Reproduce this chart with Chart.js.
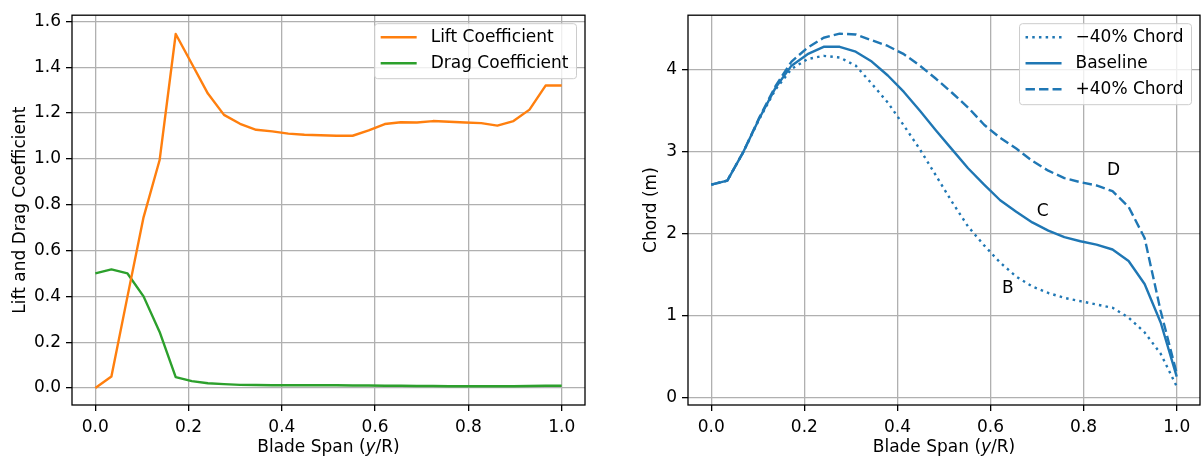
<!DOCTYPE html>
<html>
<head>
<meta charset="utf-8">
<script src="https://cdn.jsdelivr.net/npm/chart.js@4/dist/chart.umd.min.js"></script>
<style>
  body { margin: 0; background: #fff; width: 1202px; height: 460px; overflow: hidden; position: relative; }
  canvas { position: absolute; top: 0; }
  #left-chart { left: 0; }
  #right-chart { left: 601px; }
</style>
</head>
<body>
<canvas id="left-chart" width="601" height="460"></canvas>
<canvas id="right-chart" width="601" height="460"></canvas>
<script>
// blade span stations (y/R)
var spanPoints = [0, 0.0345, 0.069, 0.1034, 0.1379, 0.1724, 0.2069, 0.2414, 0.2759, 0.3103,
  0.3448, 0.3793, 0.4138, 0.4483, 0.4828, 0.5172, 0.5517, 0.5862, 0.6207, 0.6552,
  0.6897, 0.7241, 0.7586, 0.7931, 0.8276, 0.8621, 0.8966, 0.931, 0.9655, 1.0];

var liftCoeff = [0.00, 0.05, 0.40, 0.745, 0.995, 1.545, 1.415, 1.285, 1.192, 1.153,
  1.127, 1.120, 1.110, 1.105, 1.103, 1.101, 1.101, 1.124, 1.152, 1.160,
  1.159, 1.165, 1.162, 1.159, 1.156, 1.145, 1.165, 1.215, 1.320, 1.320];

var dragCoeff = [0.50, 0.518, 0.50, 0.40, 0.245, 0.048, 0.030, 0.021, 0.017, 0.014,
  0.013, 0.012, 0.012, 0.012, 0.012, 0.012, 0.011, 0.011, 0.010, 0.010,
  0.009, 0.009, 0.008, 0.008, 0.008, 0.008, 0.008, 0.009, 0.010, 0.010];

var chordMinus40 = [2.60, 2.65, 3.00, 3.40, 3.76, 4.01, 4.13, 4.17, 4.15, 4.05,
  3.83, 3.60, 3.32, 3.03, 2.71, 2.39, 2.09, 1.86, 1.65, 1.48,
  1.36, 1.28, 1.22, 1.18, 1.14, 1.10, 0.98, 0.80, 0.54, 0.14];

var chordBaseline = [2.60, 2.65, 3.00, 3.41, 3.78, 4.05, 4.19, 4.28, 4.28, 4.22,
  4.10, 3.93, 3.73, 3.50, 3.26, 3.03, 2.80, 2.60, 2.41, 2.27,
  2.14, 2.04, 1.96, 1.91, 1.87, 1.81, 1.67, 1.39, 0.92, 0.26];

var chordPlus40 = [2.60, 2.65, 3.00, 3.42, 3.80, 4.10, 4.27, 4.39, 4.44, 4.43,
  4.36, 4.29, 4.19, 4.05, 3.89, 3.72, 3.54, 3.33, 3.17, 3.04,
  2.89, 2.77, 2.68, 2.63, 2.59, 2.52, 2.33, 1.95, 1.06, 0.30];

var spanTicks = [0, 0.2, 0.4, 0.6, 0.8, 1.0];
var coeffTicks = [0, 0.2, 0.4, 0.6, 0.8, 1.0, 1.2, 1.4, 1.6];
var chordTicks = [0, 1, 2, 3, 4];

var pointLabels = ['B', 'C', 'D'];
var pointLabelX = [0.637, 0.712, 0.864];
var pointLabelY = [1.33, 2.27, 2.77];

var FONT = "'DejaVu Sans', sans-serif";
Chart.defaults.font.family = FONT;
Chart.defaults.font.size = 17;
Chart.defaults.color = '#000';

function toPoints(ys) {
  return spanPoints.map(function(x, i) { return { x: x, y: ys[i] }; });
}

function roundedBox(ctx, x, y, w, h, r) {
  ctx.beginPath();
  ctx.moveTo(x + r, y);
  ctx.lineTo(x + w - r, y);
  ctx.arcTo(x + w, y, x + w, y + r, r);
  ctx.lineTo(x + w, y + h - r);
  ctx.arcTo(x + w, y + h, x + w - r, y + h, r);
  ctx.lineTo(x + r, y + h);
  ctx.arcTo(x, y + h, x, y + h - r, r);
  ctx.lineTo(x, y + r);
  ctx.arcTo(x, y, x + r, y, r);
  ctx.closePath();
}

// frame, x label (with italic y), legend box and text notes
function decorations(notes) {
  return {
    id: 'decorations',
    afterDatasetsDraw: function(chart) {
      var ctx = chart.ctx, a = chart.chartArea;
      ctx.save();
      ctx.strokeStyle = '#000';
      ctx.lineWidth = 1.3;
      ctx.strokeRect(a.left, a.top, a.right - a.left, a.bottom - a.top);
      if (notes) {
        ctx.fillStyle = '#000';
        ctx.font = '17px ' + FONT;
        ctx.textAlign = 'center';
        ctx.textBaseline = 'middle';
        for (var i = 0; i < pointLabels.length; i++) {
          ctx.fillText(pointLabels[i],
            chart.scales.x.getPixelForValue(pointLabelX[i]),
            chart.scales.y.getPixelForValue(pointLabelY[i]));
        }
      }
      ctx.restore();
    },
    afterDraw: function(chart) {
      var ctx = chart.ctx, a = chart.chartArea;
      ctx.save();
      // x axis label
      var parts = [['Blade Span (', ''], ['y', 'italic '], ['/R)', '']];
      var total = 0;
      parts.forEach(function(p) { ctx.font = p[1] + '17px ' + FONT; total += ctx.measureText(p[0]).width; });
      var x = (a.left + a.right) / 2 - total / 2;
      ctx.fillStyle = '#000';
      ctx.textBaseline = 'middle';
      ctx.textAlign = 'left';
      parts.forEach(function(p) {
        ctx.font = p[1] + '17px ' + FONT;
        ctx.fillText(p[0], x, a.bottom + 43);
        x += ctx.measureText(p[0]).width;
      });
      // legend
      var sets = chart.data.datasets;
      ctx.font = '17px ' + FONT;
      var textW = 0;
      sets.forEach(function(ds) { textW = Math.max(textW, ctx.measureText(ds.label).width); });
      var w = 56 + textW + 8, h = sets.length * 26 + 3;
      var left = a.right - 8.5 - w, top = a.top + 8.5;
      roundedBox(ctx, left, top, w, h, 3);
      ctx.fillStyle = 'rgba(255,255,255,0.8)';
      ctx.fill();
      ctx.strokeStyle = '#cccccc';
      ctx.lineWidth = 1;
      ctx.stroke();
      sets.forEach(function(ds, i) {
        var y = top + 13.5 + i * 26;
        ctx.beginPath();
        ctx.setLineDash(ds.borderDash || []);
        ctx.strokeStyle = ds.borderColor;
        ctx.lineWidth = ds.borderWidth;
        ctx.moveTo(left + 6, y);
        ctx.lineTo(left + 42, y);
        ctx.stroke();
        ctx.setLineDash([]);
        ctx.fillStyle = '#000';
        ctx.fillText(ds.label, left + 56, y);
      });
      ctx.restore();
    }
  };
}

function spanAxis() {
  return {
    type: 'linear',
    min: -0.05,
    max: 1.05,
    afterBuildTicks: function(scale) { scale.ticks = spanTicks.map(function(v) { return { value: v }; }); },
    afterFit: function(scale) { scale.height = 55; },
    ticks: { autoSkip: false, maxRotation: 0, padding: 6, callback: function(v) { return v.toFixed(1); } },
    grid: { color: '#b0b0b0', lineWidth: 1.3, tickColor: '#000', tickLength: 6, tickWidth: 1.3 },
    border: { display: false }
  };
}

function valueAxis(min, max, tickList, fmt, title, titlePad, width) {
  return {
    type: 'linear',
    min: min,
    max: max,
    afterBuildTicks: function(scale) { scale.ticks = tickList.map(function(v) { return { value: v }; }); },
    afterFit: function(scale) { scale.width = width; },
    ticks: { autoSkip: false, padding: 5, callback: fmt },
    grid: { color: '#b0b0b0', lineWidth: 1.3, tickColor: '#000', tickLength: 6, tickWidth: 1.3 },
    border: { display: false },
    title: { display: true, text: title, padding: { top: titlePad, bottom: 0 }, font: { size: 17 } }
  };
}

function lineSet(label, ys, color, dash) {
  return {
    label: label,
    data: toPoints(ys),
    borderColor: color,
    backgroundColor: color,
    borderWidth: 2.4,
    borderDash: dash,
    borderJoinStyle: 'round',
    pointRadius: 0,
    tension: 0,
    fill: false
  };
}

new Chart(document.getElementById('left-chart'), {
  type: 'line',
  data: {
    datasets: [
      lineSet('Lift Coefficient', liftCoeff, '#ff7f0e', []),
      lineSet('Drag Coefficient', dragCoeff, '#2ca02c', [])
    ]
  },
  options: {
    responsive: false,
    animation: false,
    devicePixelRatio: 1,
    layout: { padding: { top: 12.5, right: 16, bottom: 0, left: 0 } },
    plugins: { legend: { display: false }, tooltip: { enabled: false } },
    scales: {
      x: spanAxis(),
      y: valueAxis(-0.074, 1.627, coeffTicks, function(v) { return v.toFixed(1); },
        'Lift and Drag Coefficient', 10, 72)
    }
  },
  plugins: [decorations(false)]
});

new Chart(document.getElementById('right-chart'), {
  type: 'line',
  data: {
    datasets: [
      lineSet('\u221240% Chord', chordMinus40, '#1f77b4', [2.5, 4.2]),
      lineSet('Baseline', chordBaseline, '#1f77b4', []),
      lineSet('+40% Chord', chordPlus40, '#1f77b4', [9.4, 4.1])
    ]
  },
  options: {
    responsive: false,
    animation: false,
    devicePixelRatio: 1,
    layout: { padding: { top: 12.5, right: 2, bottom: 0, left: 0 } },
    plugins: { legend: { display: false }, tooltip: { enabled: false } },
    scales: {
      x: spanAxis(),
      y: valueAxis(-0.085, 4.665, chordTicks, function(v) { return String(v); },
        'Chord (m)', 40, 87)
    }
  },
  plugins: [decorations(true)]
});
</script>
</body>
</html>
